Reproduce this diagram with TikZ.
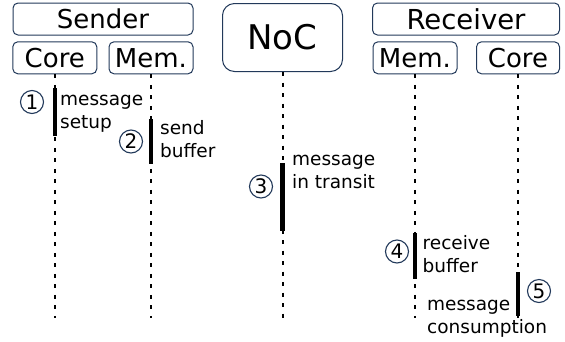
\documentclass[tikz,border=0pt]{standalone}
\usepackage{fontspec}
\setmainfont{DejaVu Sans}
\definecolor{edge}{HTML}{22395A}
\begin{document}
\begin{tikzpicture}[x=1pt,y=-1pt,
  box/.style={draw=edge, line width=1pt, rounded corners=5pt, fill=white,
    inner sep=0pt, font=\fontsize{26}{30}\selectfont},
  lifeline/.style={line width=2pt, dash pattern=on 4pt off 6.5pt},
  actbar/.style={line width=4.5pt},
  num/.style={circle, draw=edge, line width=1.1pt, minimum size=23pt,
    inner sep=0pt, font=\fontsize{20}{23}\selectfont},
  lbl/.style={anchor=north west, align=left, inner sep=0pt,
    font=\fontsize{18.5}{23}\selectfont}]
\useasboundingbox (0,0) rectangle (565,341);

% participants
\node[box, minimum width=180pt, minimum height=32pt] (sender) at (103,19) {Sender};
\node[box, minimum width=84pt, minimum height=32pt] (score) at (54.8,57.8) {Core};
\node[box, minimum width=84pt, minimum height=32pt] (smem) at (151,57.8) {Mem.};
\node[box, rounded corners=12pt, minimum width=120pt, minimum height=68pt,
  font=\fontsize{34}{40}\selectfont] (noc) at (282.5,37.5) {NoC};
\node[box, minimum width=187pt, minimum height=32pt,
  font=\fontsize{27.5}{32}\selectfont] (receiver) at (466,19) {Receiver};
\node[box, minimum width=84pt, minimum height=32pt] (rmem) at (415,57.8) {Mem.};
\node[box, minimum width=83pt, minimum height=32pt] (rcore) at (518,57.8) {Core};

% end points of the lifelines
\coordinate (bottom) at (0,318);
\foreach \p in {score,smem,noc,rmem,rcore}
  \draw[lifeline] (\p.south) -- (\p.south |- bottom);

% activations
\draw[actbar] (score.south |- 0,88) -- (score.south |- 0,136);
\draw[actbar] (smem.south |- 0,119) -- (smem.south |- 0,164);
\draw[actbar] (noc.south |- 0,163) -- (noc.south |- 0,231);
\draw[actbar] (rmem.south |- 0,233) -- (rmem.south |- 0,279);
\draw[actbar] (rcore.south |- 0,272) -- (rcore.south |- 0,316);

% step numbers
\node[num] (n1) at (32,102) {1};
\node[num] (n2) at (131,141.5) {2};
\node[num] (n3) at (261,186.5) {3};
\node[num] (n4) at (397,251.5) {4};
\node[num] (n5) at (539,291) {5};

% step descriptions
\node[lbl] (t1) at (60,95) {message\\setup};
\node[lbl] (t2) at (160,120) {send\\buffer};
\node[lbl] (t3) at (292,155) {message\\in transit};
\node[lbl] (t4) at (422.5,235) {receive\\buffer};
\node[lbl] (t5) at (427,300) {message\\consumption};
\end{tikzpicture}
\end{document}
